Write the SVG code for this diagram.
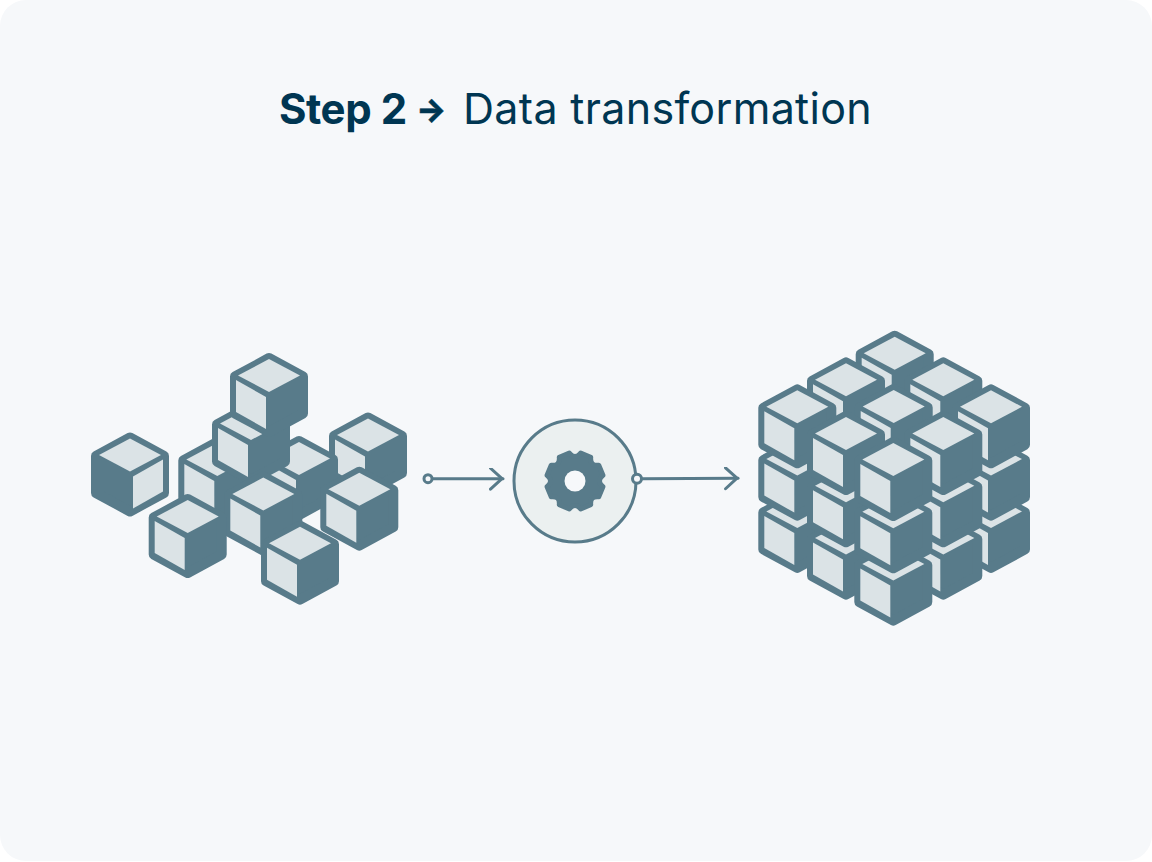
<svg xmlns="http://www.w3.org/2000/svg" width="1152" height="862" viewBox="0 0 1152 862">
<style>
.t{font-family:Inter,"Liberation Sans",sans-serif;fill:#003652}
.b{font-size:42px;font-weight:700;letter-spacing:-0.45px}
.r{font-size:43px;letter-spacing:.32px}
.a{font-size:32px;font-weight:800;stroke:#003652;stroke-width:.5px}
.line{fill:none;stroke:#587b8a;stroke-width:3;stroke-linecap:round}
.dot{fill:#f6f8fa;stroke:#587b8a;stroke-width:3}
.shell{fill:#587b8a;stroke:#587b8a;stroke-width:10;stroke-linejoin:round}
.face{fill:#dbe3e6}
</style>
<defs>
<marker id="head" markerUnits="userSpaceOnUse" markerWidth="20" markerHeight="28" refX="14" refY="11" orient="auto"><path d="M1.5 0.5L13 11L1.5 21.5" fill="none" stroke="#587b8a" stroke-width="3" stroke-linecap="round" stroke-linejoin="round"/></marker>
<g id="cube"><path class="shell" d="M0-37L34-18.5V18.5L0 37L-34 18.5V-18.5Z"/><path class="face" d="M0-36L31-19.5L0-3L-31-19.5Z"/><path class="face" d="M-33-15L-3 2V34L-33 17Z"/></g>
<g id="cubeR"><path class="shell" d="M0-37L34-18.5V18.5L0 37L-34 18.5V-18.5Z"/><path class="face" d="M0-36L31-19.5L0-3L-31-19.5Z"/><path class="face" d="M33-15L3 2V34L33 17Z"/></g>
</defs>
<rect width="1152" height="862" fill="#ffffff"/>
<rect width="1152" height="861" rx="26" fill="#f6f8fa"/>
<g id="title">
<text class="t b" x="279" y="124">Step 2</text>
<text class="t a" x="416" y="121">→</text>
<text class="t r" x="463" y="124">Data transformation</text>
</g>
<g id="scattered-blocks">
<use id="s1" href="#cubeR" x="130" y="474.5"/>
<use id="s2" href="#cube" x="368" y="454.5"/>
<use id="s3" href="#cube" x="217.3" y="479"/>
<use id="s4" href="#cube" x="299" y="478"/>
<use id="s5" href="#cube" x="251" y="443"/>
<use id="s6" href="#cube" x="269" y="395"/>
<use id="s7" href="#cube" x="263.3" y="513.5"/>
<use id="s8" href="#cube" x="187.7" y="536"/>
<use id="s9" href="#cube" x="359.3" y="508.7"/>
<use id="s10" href="#cube" x="300" y="562.7"/>
</g>
<g id="connectors">
<path class="line" d="M432 478.7H503" marker-end="url(#head)"/>
<path class="line" d="M642 478.7L738 478.2" marker-end="url(#head)"/>
</g>
<g id="processor">
<circle cx="575" cy="481" r="61" fill="#ebf0f0" stroke="#587b8a" stroke-width="3"/>
<path transform="translate(575 481)" fill="#587b8a" stroke="#587b8a" stroke-width="5" stroke-linejoin="round" d="M5.68-27.93L15.73-23.77Q14.8-14.8 23.77-15.73L27.93-5.68Q21 0 27.93 5.68L23.77 15.73Q14.8 14.8 15.73 23.77L5.68 27.93Q0 21-5.68 27.93L-15.73 23.77Q-14.8 14.8-23.77 15.73L-27.93 5.68Q-21 0-27.93-5.68L-23.77-15.73Q-14.8-14.8-15.73-23.77L-5.68-27.93Q0-21 5.68-27.93Z"/>
<circle cx="575" cy="481" r="10.5" fill="#f6f8fa"/>
</g>
<g id="ports">
<circle class="dot" cx="428" cy="478.7" r="4"/>
<circle class="dot" cx="637" cy="478.7" r="4.5"/>
</g>
<g id="assembled-cube">
<g id="layer3" transform="translate(0 104.6)">
<use href="#cube" x="894.7" y="372.7"/><use href="#cube" x="846" y="399.3"/><use href="#cube" x="943.3" y="399.3"/><use href="#cube" x="797.3" y="426.3"/><use href="#cube" x="893.7" y="426"/><use href="#cube" x="991" y="426.3"/><use href="#cube" x="846" y="453"/><use href="#cube" x="943.3" y="453"/><use href="#cube" x="893.3" y="479"/>
</g>
<g id="layer2" transform="translate(0 52.3)">
<use href="#cube" x="894.7" y="372.7"/><use href="#cube" x="846" y="399.3"/><use href="#cube" x="943.3" y="399.3"/><use href="#cube" x="797.3" y="426.3"/><use href="#cube" x="893.7" y="426"/><use href="#cube" x="991" y="426.3"/><use href="#cube" x="846" y="453"/><use href="#cube" x="943.3" y="453"/><use href="#cube" x="893.3" y="479"/>
</g>
<g id="layer1">
<use href="#cube" x="894.7" y="372.7"/><use href="#cube" x="846" y="399.3"/><use href="#cube" x="943.3" y="399.3"/><use href="#cube" x="797.3" y="426.3"/><use href="#cube" x="893.7" y="426"/><use href="#cube" x="991" y="426.3"/><use href="#cube" x="846" y="453"/><use href="#cube" x="943.3" y="453"/><use href="#cube" x="893.3" y="479"/>
</g>
</g>
</svg>
